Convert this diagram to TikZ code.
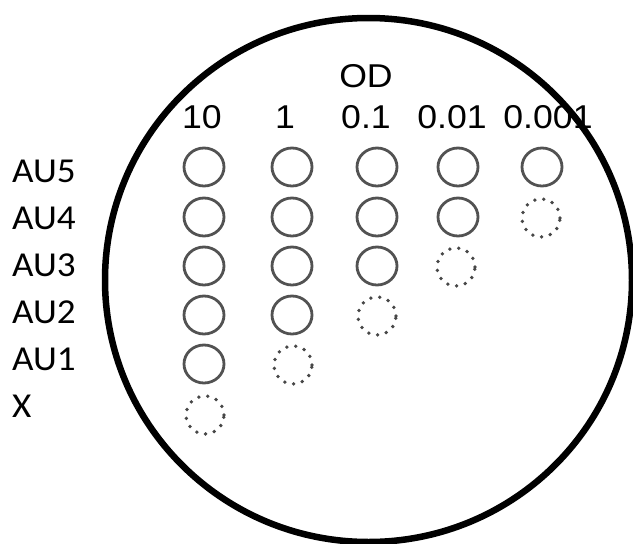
\documentclass[tikz,border=0pt]{standalone}
\usepackage{fontspec}
\usetikzlibrary{shapes.geometric}
\setmainfont{Liberation Sans}
\newfontfamily\labelfont{Carlito}
\begin{document}
\begin{tikzpicture}[x=1pt,y=-1pt,
  hdr/.style={anchor=base,inner sep=0pt,font=\fontsize{33}{33}\selectfont},
  rowlab/.style={anchor=base west,inner sep=0pt,font=\labelfont\fontsize{35}{35}\selectfont},
  spot/.style={draw=black!68,line width=2.8pt,ellipse,minimum width=40pt,minimum height=38pt,inner sep=0pt},
  nospot/.style={draw=black!72,line width=3.8pt,dash pattern=on 0pt off 9pt,line cap=round,circle,minimum size=38pt,inner sep=0pt}]
\useasboundingbox (0,0) rectangle (633,544);
\clip (0,0) rectangle (633,544);
% plate outline
\draw[line width=6.5pt] (368.5,280) ellipse [x radius=263.5, y radius=262];
% dilution header
\node[hdr] (od) at (366,87) {\scalebox{1.08}[1]{OD}};
\node[hdr] (h1) at (202,128) {\scalebox{1.08}[1]{10}};
\node[hdr] (h2) at (285,128) {\scalebox{1.08}[1]{1}};
\node[hdr] (h3) at (366,128) {\scalebox{1.08}[1]{0.1}};
\node[hdr] (h4) at (452,128) {\scalebox{1.08}[1]{0.01}};
\node[hdr] (h5) at (548,128) {\scalebox{1.08}[1]{0.001}};
% strain labels
\node[rowlab] (r5) at (12,182) {\scalebox{1.06}[1]{AU5}};
\node[rowlab] (r4) at (12,229) {\scalebox{1.06}[1]{AU4}};
\node[rowlab] (r3) at (12,276) {\scalebox{1.06}[1]{AU3}};
\node[rowlab] (r2) at (12,323) {\scalebox{1.06}[1]{AU2}};
\node[rowlab] (r1) at (12,370) {\scalebox{1.06}[1]{AU1}};
\node[rowlab] (rx) at (12,417) {\scalebox{1.06}[1]{X}};
% colonies: column 10
\node[spot] (a1) at (204,167) {};
\node[spot] (a2) at (204,217) {};
\node[spot] (a3) at (204,266) {};
\node[spot] (a4) at (204,315) {};
\node[spot] (a5) at (204,364) {};
\node[nospot] (a6) at (205,415) {};
% column 1
\node[spot] (b1) at (292,167) {};
\node[spot] (b2) at (292,217) {};
\node[spot] (b3) at (292,266) {};
\node[spot] (b4) at (292,315) {};
\node[nospot] (b5) at (293,365) {};
% column 0.1
\node[spot] (c1) at (377,167) {};
\node[spot] (c2) at (377,217) {};
\node[spot] (c3) at (377,266) {};
\node[nospot] (c4) at (377,316) {};
% column 0.01
\node[spot] (d1) at (458,167) {};
\node[spot] (d2) at (458,217) {};
\node[nospot] (d3) at (456,267) {};
% column 0.001
\node[spot] (e1) at (542,167) {};
\node[nospot] (e2) at (541,218) {};
\end{tikzpicture}
\end{document}
